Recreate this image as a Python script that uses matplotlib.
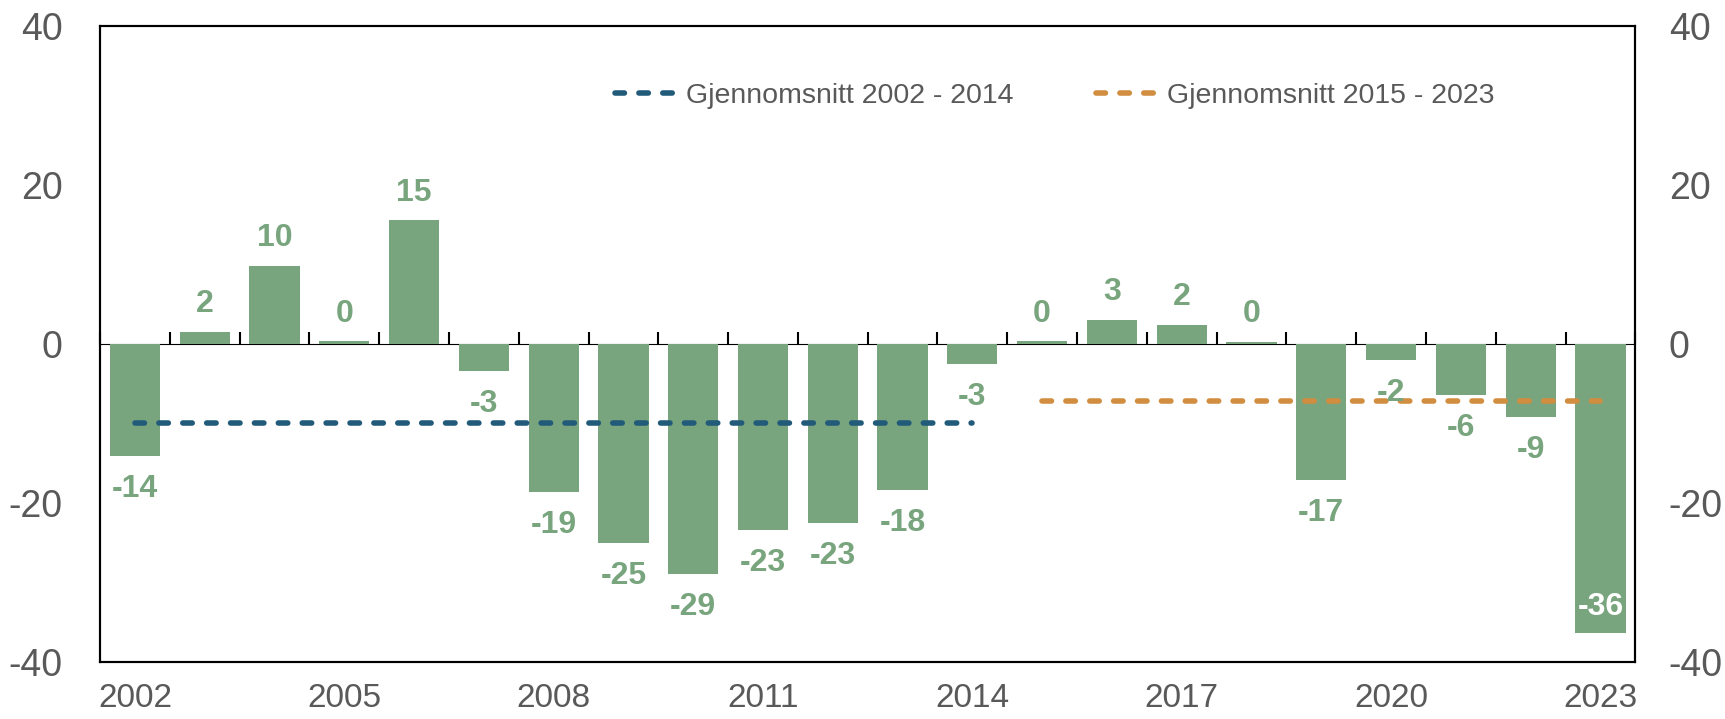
import matplotlib
matplotlib.use("Agg")
import matplotlib.pyplot as plt
import numpy as np

plt.rcParams['font.family'] = ['Liberation Sans', 'DejaVu Sans']
plt.rcParams['axes.unicode_minus'] = False

# Data
years = list(range(2002, 2024))
values = [-14.1, 1.5, 9.8, 0.3, 15.5, -3.4, -18.6, -25.1, -29.0, -23.4, -22.6,
          -18.4, -2.6, 0.3, 3.0, 2.4, 0.25, -17.2, -2.0, -6.4, -9.2, -36.4]
labels = ["-14", "2", "10", "0", "15", "-3", "-19", "-25", "-29", "-23", "-23",
          "-18", "-3", "0", "3", "2", "0", "-17", "-2", "-6", "-9", "-36"]
avg1_label = "Gjennomsnitt 2002 - 2014"
avg1_years = (2002, 2014)
avg1_value = -10.0
avg2_label = "Gjennomsnitt 2015 - 2023"
avg2_years = (2015, 2023)
avg2_value = -7.25
xtick_years = [2002, 2005, 2008, 2011, 2014, 2017, 2020, 2023]
yticks = [-40, -20, 0, 20, 40]

GREEN = "#78A57D"
BLUE = "#225A7A"
ORANGE = "#D18D40"
GREY = "#595959"

fig = plt.figure(figsize=(17.25, 7.19), dpi=100)
ax = fig.add_axes([0.058, 0.0797, 0.890, 0.8846])

x = np.arange(len(years))
ax.bar(x, values, width=0.72, color=GREEN, zorder=2)

# value labels
for xi, v, lab in zip(x, values, labels):
    if lab == "-36":
        ax.annotate(lab, (xi, v), xytext=(0, 13), textcoords="offset points",
                    ha="center", va="baseline", fontsize=23, fontweight="bold",
                    color="white", zorder=4)
    elif v >= 0:
        ax.annotate(lab, (xi, v), xytext=(0, 9), textcoords="offset points",
                    ha="center", va="bottom", fontsize=23, fontweight="bold",
                    color=GREEN, zorder=4)
    else:
        ax.annotate(lab, (xi, v), xytext=(0, -13), textcoords="offset points",
                    ha="center", va="top", fontsize=23, fontweight="bold",
                    color=GREEN, zorder=4)

# average lines
i1 = (years.index(avg1_years[0]), years.index(avg1_years[1]))
i2 = (years.index(avg2_years[0]), years.index(avg2_years[1]))
ax.plot([i1[0], i1[1]], [avg1_value, avg1_value], color=BLUE, lw=4,
        dashes=(1.7, 2.6), dash_capstyle="round", label=avg1_label, zorder=3)
ax.plot([i2[0], i2[1]], [avg2_value, avg2_value], color=ORANGE, lw=4,
        dashes=(1.7, 2.6), dash_capstyle="round", label=avg2_label, zorder=3)

ax.set_xlim(-0.5, len(years) - 0.5)
ax.set_ylim(-40, 40)

# bottom labels
ax.set_xticks([years.index(y) for y in xtick_years])
ax.set_xticklabels([str(y) for y in xtick_years])
ax.tick_params(axis="x", length=0, pad=15, labelsize=24, labelcolor=GREY)

ax.set_yticks(yticks)
ax.tick_params(axis="y", length=0, pad=27, labelsize=27, labelcolor=GREY)

# right axis
axr = ax.twinx()
axr.set_ylim(-40, 40)
axr.set_yticks(yticks)
axr.tick_params(axis="y", length=0, pad=24, labelsize=27, labelcolor=GREY)

for a in (ax, axr):
    for s in a.spines.values():
        s.set_linewidth(1.5)
        s.set_color("black")

# zero line with category-boundary ticks
sec = ax.secondary_xaxis(0.5)
sec.set_xticks(np.arange(len(years) + 1) - 0.5)
sec.tick_params(axis="x", direction="out", length=9, width=1.5, labelbottom=False,
                color="black")
sec.spines["bottom"].set_linewidth(1.5)
sec.set_xticklabels([])

leg = ax.legend(loc="center", bbox_to_anchor=(0.622, 0.889), ncol=2,
                frameon=False, fontsize=20.5, handlelength=2.3,
                handletextpad=0.2, columnspacing=2.9, borderpad=0)
for t in leg.get_texts():
    t.set_color(GREY)

fig.savefig("out.png", dpi=100)
